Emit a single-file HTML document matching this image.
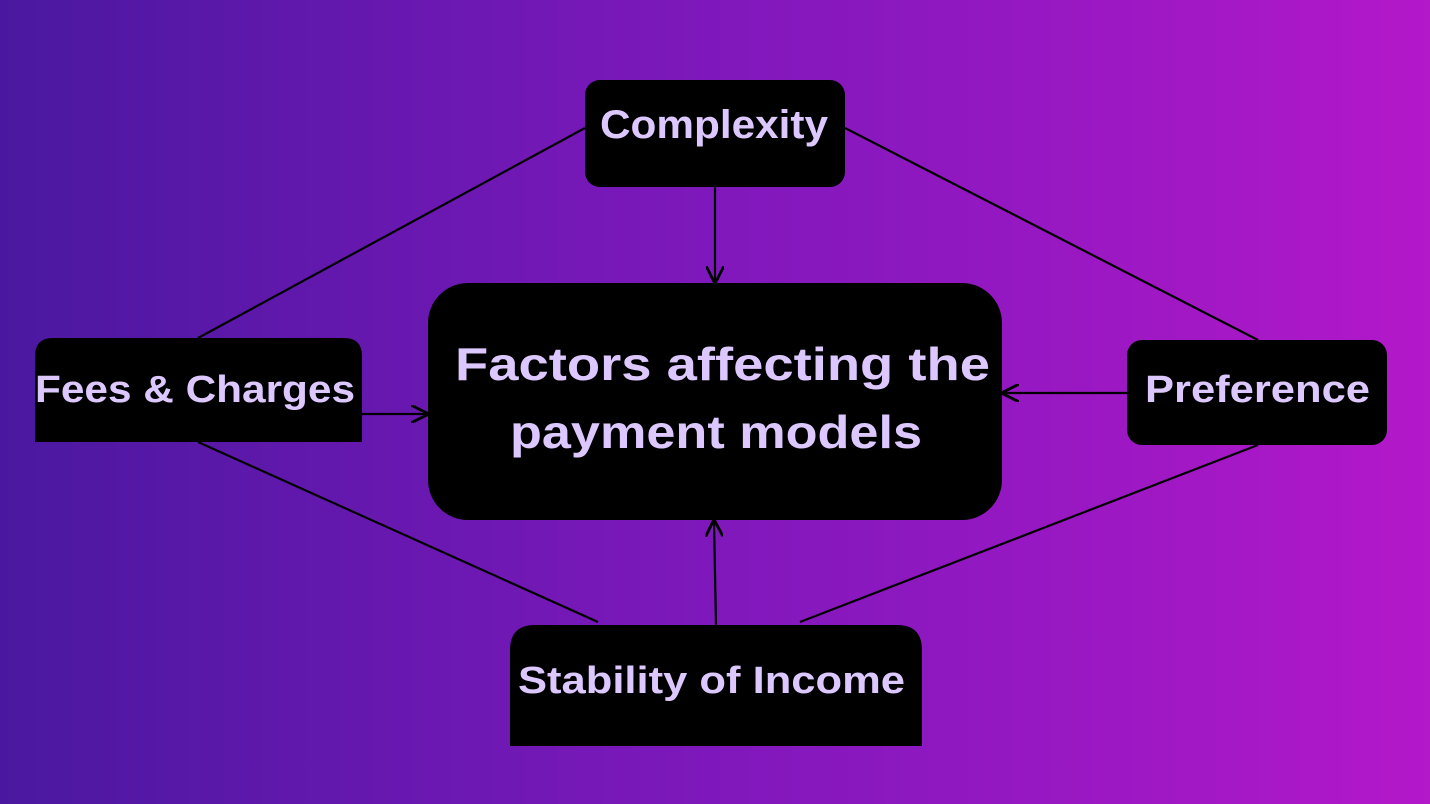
<!DOCTYPE html>
<html><head><meta charset="utf-8"><style>
html,body{margin:0;padding:0;width:1430px;height:804px;overflow:hidden}
</style></head><body>
<svg width="1430" height="804" viewBox="0 0 1430 804" xmlns="http://www.w3.org/2000/svg">
<defs>
<linearGradient id="bg" x1="0" y1="0" x2="1" y2="0">
<stop offset="0" stop-color="#4a18a0"/>
<stop offset="0.5" stop-color="#7f18bc"/>
<stop offset="1" stop-color="#b318c9"/>
</linearGradient>
<marker id="a" viewBox="0 0 10 10" refX="9" refY="5" markerWidth="8" markerHeight="8" orient="auto"><path d="M0,0 L10,5 L0,10" fill="none" stroke="#000" stroke-width="1.6"/></marker>
</defs>
<rect width="1430" height="804" fill="url(#bg)"/>
<g stroke="#000" stroke-width="2.2" fill="none">
<line x1="585" y1="128" x2="198" y2="338"/>
<line x1="845" y1="128" x2="1258" y2="340"/>
<line x1="198" y1="442" x2="598" y2="622"/>
<line x1="1258" y1="445" x2="800" y2="622"/>
<line x1="715" y1="187" x2="715" y2="282" marker-end="url(#a)"/>
<line x1="362" y1="414" x2="427" y2="414" marker-end="url(#a)"/>
<line x1="1127" y1="393" x2="1003" y2="393" marker-end="url(#a)"/>
<line x1="716" y1="625" x2="714" y2="521" marker-end="url(#a)"/>
</g>
<rect x="585" y="80" width="260" height="107" rx="15" fill="#000"/>
<rect x="428" y="283" width="574" height="237" rx="40" fill="#000"/>
<rect x="1127" y="340" width="260" height="105" rx="15" fill="#000"/>
<path d="M35,356 Q35,338 53,338 L344,338 Q362,338 362,356 L362,442 L35,442 Z" fill="#000"/>
<path d="M510,650 Q510,625 535,625 L897,625 Q922,625 922,650 L922,746 L510,746 Z" fill="#000"/>
<g fill="#dcc8ff" font-family="Liberation Sans, sans-serif" font-weight="bold" lengthAdjust="spacingAndGlyphs">
<text x="600" y="138" font-size="40" textLength="228" lengthAdjust="spacingAndGlyphs">Complexity</text>
<text x="35" y="402" font-size="38" textLength="320" lengthAdjust="spacingAndGlyphs">Fees &amp; Charges</text>
<text x="1145" y="402" font-size="38" textLength="225" lengthAdjust="spacingAndGlyphs">Preference</text>
<text x="518" y="693" font-size="38" textLength="387" lengthAdjust="spacingAndGlyphs">Stability of Income</text>
<text x="455" y="380" font-size="46" textLength="535" lengthAdjust="spacingAndGlyphs">Factors affecting the</text>
<text x="510" y="448" font-size="46" textLength="412" lengthAdjust="spacingAndGlyphs">payment models</text>
</g>
</svg>
</body></html>
